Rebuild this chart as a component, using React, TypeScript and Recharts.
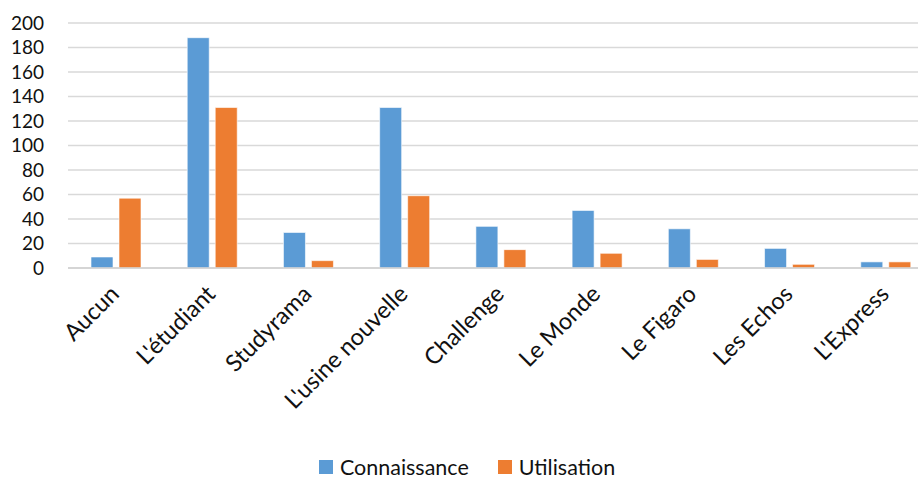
import { BarChart, Bar, XAxis, YAxis, CartesianGrid, Legend } from "recharts";

const CATEGORIES = [
  "Aucun",
  "L'étudiant",
  "Studyrama",
  "L'usine nouvelle",
  "Challenge",
  "Le Monde",
  "Le Figaro",
  "Les Echos",
  "L'Express",
];
const CONNAISSANCE = [9, 188, 29, 131, 34, 47, 32, 16, 5];
const UTILISATION = [57, 131, 6, 59, 15, 12, 7, 3, 5];
const Y_TICKS = [0, 20, 40, 60, 80, 100, 120, 140, 160, 180, 200];

const FONT = "Lato, 'Open Sans', sans-serif";
const TEXT = "#111";
const GRID = "#d9d9d9";
const BLUE = "#5B9BD5";
const ORANGE = "#ED7D31";

const data = CATEGORIES.map((name, i) => ({
  name,
  connaissance: CONNAISSANCE[i],
  utilisation: UTILISATION[i],
}));

function LegendContent() {
  const items = [
    { label: "Connaissance", color: BLUE },
    { label: "Utilisation", color: ORANGE },
  ];
  return (
    <div style={{ display: "flex", justifyContent: "center", fontFamily: FONT, fontSize: 21.5, color: TEXT, lineHeight: "24px" }}>
      {items.map((it, i) => (
        <div key={it.label} style={{ display: "flex", alignItems: "center", marginLeft: i ? 29 : 0 }}>
          <span style={{ width: 14, height: 14, background: it.color, marginRight: 7, display: "inline-block" }} />
          <span>{it.label}</span>
        </div>
      ))}
    </div>
  );
}

// rotated category label, end of text sits just under the tick
function CategoryTick({ x, y, payload }: any) {
  const tx = x - 8;
  return (
    <text
      x={tx}
      y={y}
      dy="0.75em"
      textAnchor="end"
      transform={`rotate(-45, ${tx}, ${y})`}
      fontFamily={FONT}
      fontSize={23.5}
      fill={TEXT}
    >
      {payload.value}
    </text>
  );
}

export default function App() {
  return (
    <div style={{ position: "absolute", left: 0, top: 0, width: 918, height: 479, overflow: "hidden", background: "#fff" }}>
      <BarChart
        width={934}
        height={479}
        data={data}
        margin={{ top: 23, right: 0, left: 0, bottom: 0 }}
        barCategoryGap={23}
        barGap={6}
      >
        <CartesianGrid vertical={false} stroke={GRID} strokeWidth={1.3} />
        <XAxis
          dataKey="name"
          interval={0}
          height={187}
          tickLine={false}
          tickSize={0}
          tickMargin={15}
          axisLine={{ stroke: "#d0d0d0", strokeWidth: 1.3 }}
          tick={<CategoryTick />}
        />
        <YAxis
          width={68}
          domain={[0, 200]}
          ticks={Y_TICKS}
          interval={0}
          axisLine={false}
          tickLine={false}
          tickSize={0}
          tickMargin={24}
          tick={{ fontFamily: FONT, fontSize: 19, fill: TEXT }}
        />
        <Legend verticalAlign="bottom" height={24} content={<LegendContent />} />
        <Bar dataKey="connaissance" fill={BLUE} stroke="#fff" strokeOpacity={0.6} isAnimationActive={false} />
        <Bar dataKey="utilisation" fill={ORANGE} stroke="#fff" strokeOpacity={0.6} isAnimationActive={false} />
      </BarChart>
    </div>
  );
}
